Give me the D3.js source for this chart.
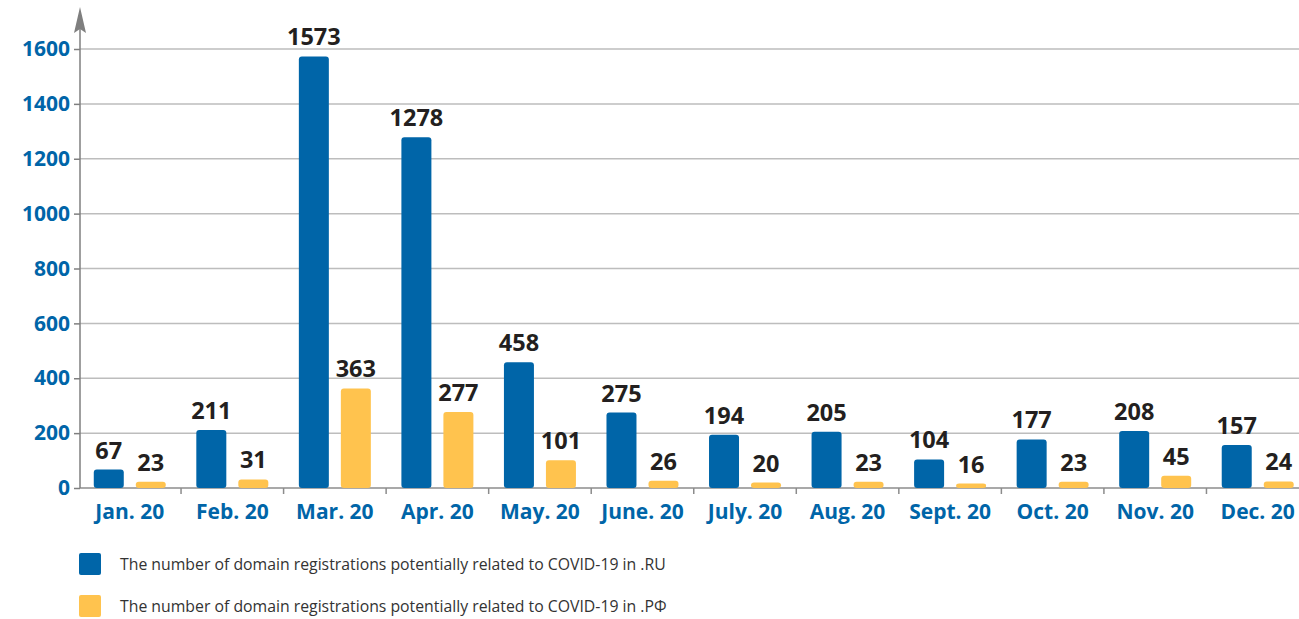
<!DOCTYPE html>
<html><head><meta charset="utf-8">
<script src="https://cdn.jsdelivr.net/npm/d3@7"></script>
<style>
html,body{margin:0;padding:0;background:#fff;}
svg{display:block;}
</style></head>
<body>
<svg id="chart" width="1299" height="619"></svg>
<script>
const months = ["Jan. 20","Feb. 20","Mar. 20","Apr. 20","May. 20","June. 20","July. 20","Aug. 20","Sept. 20","Oct. 20","Nov. 20","Dec. 20"];
const ruValues = [67,211,1573,1278,458,275,194,205,104,177,208,157];
const rfValues = [23,31,363,277,101,26,20,23,16,23,45,24];
const yTicks = [0,200,400,600,800,1000,1200,1400,1600];
const seriesNames = [
  "The number of domain registrations potentially related to COVID-19 in .RU",
  "The number of domain registrations potentially related to COVID-19 in .РФ"
];
const colors = ["#0065a8", "#ffc34e"];

const svg = d3.select("#chart");
const font = "'Open Sans', 'Noto Sans', sans-serif";
const x0 = 80;
const x = d3.scaleBand().domain(months).range([78.5, 1309]).padding(0);
const y = d3.scaleLinear().domain([0,1600]).range([488, 49]);

// gridlines
svg.append("g").selectAll("line").data(yTicks.filter(d=>d>0)).join("line")
  .attr("x1", x0).attr("x2", 1299)
  .attr("y1", d=>y(d)).attr("y2", d=>y(d))
  .attr("stroke", "#bdbdbd").attr("stroke-width", 1.5);

// y axis
const yAxis = d3.axisLeft(y).tickValues(yTicks).tickSize(6).tickPadding(4).tickFormat(d3.format("d"));
const yg = svg.append("g").attr("transform", `translate(${x0},0)`).call(yAxis);
yg.select(".domain").remove();
yg.selectAll(".tick line").attr("stroke", "#7f7f7f").attr("stroke-width", 1.5);
yg.selectAll(".tick text").attr("fill", "#0065a8").attr("font-family", font)
  .attr("font-weight", "bold").attr("font-size", "21px");

// x axis
const xg = svg.append("g").attr("transform", `translate(0,${y(0)})`);
xg.append("line").attr("x1", x0).attr("x2", 1299).attr("y1",0).attr("y2",0)
  .attr("stroke", "#8c8c8c").attr("stroke-width", 1.5);
xg.selectAll("line.tk").data(months.slice(1)).join("line").attr("class","tk")
  .attr("x1", d=>x(d)).attr("x2", d=>x(d)).attr("y1",0).attr("y2",6)
  .attr("stroke", "#8c8c8c").attr("stroke-width", 1.5);
xg.selectAll("text").data(months).join("text")
  .attr("x", d=>x(d)+x.bandwidth()/2).attr("y", 31)
  .attr("text-anchor","middle").attr("fill","#0065a8")
  .attr("font-family", font).attr("font-weight","bold").attr("font-size","21px")
  .text(d=>d);

// y axis line with arrow
svg.append("line").attr("x1", x0).attr("x2", x0).attr("y1", y(0)).attr("y2", 28)
  .attr("stroke", "#7f7f7f").attr("stroke-width", 1.5);
svg.append("path").attr("d", `M${x0},7 L${x0-6},33 L${x0},29 L${x0+6},33 Z`).attr("fill", "#7f7f7f");

// bars
const sub = d3.scaleOrdinal().domain([0,1]).range([-21, 21]);
const bw = 30;
const series = [ruValues, rfValues];
series.forEach((vals, si) => {
  const g = svg.append("g");
  g.selectAll("rect").data(vals).join("rect")
    .attr("x", (d,i)=>x(months[i]) + x.bandwidth()/2 + sub(si) - bw/2)
    .attr("y", d=>y(d))
    .attr("width", bw)
    .attr("height", d=>Math.max(0, y(0)-y(d)))
    .attr("rx", 3).attr("ry", 3)
    .attr("fill", colors[si]);
  g.selectAll("text").data(vals).join("text")
    .attr("x", (d,i)=>x(months[i]) + x.bandwidth()/2 + sub(si))
    .attr("y", d=>y(d) - 11)
    .attr("text-anchor","middle").attr("fill","#231f20")
    .attr("font-family", font).attr("font-weight","bold").attr("font-size","23.5px")
    .text(d=>d);
});

// legend
const lg = svg.append("g");
seriesNames.forEach((name, i) => {
  const yy = 553 + i*42;
  lg.append("rect").attr("x", 79).attr("y", yy).attr("width", 22).attr("height", 22)
    .attr("rx", 2).attr("fill", colors[i]);
  lg.append("text").attr("x", 120).attr("y", yy + 16.5)
    .attr("fill", "#333").attr("font-family", font).attr("font-size", "15.8px")
    .text(name);
});
</script>
</body></html>
